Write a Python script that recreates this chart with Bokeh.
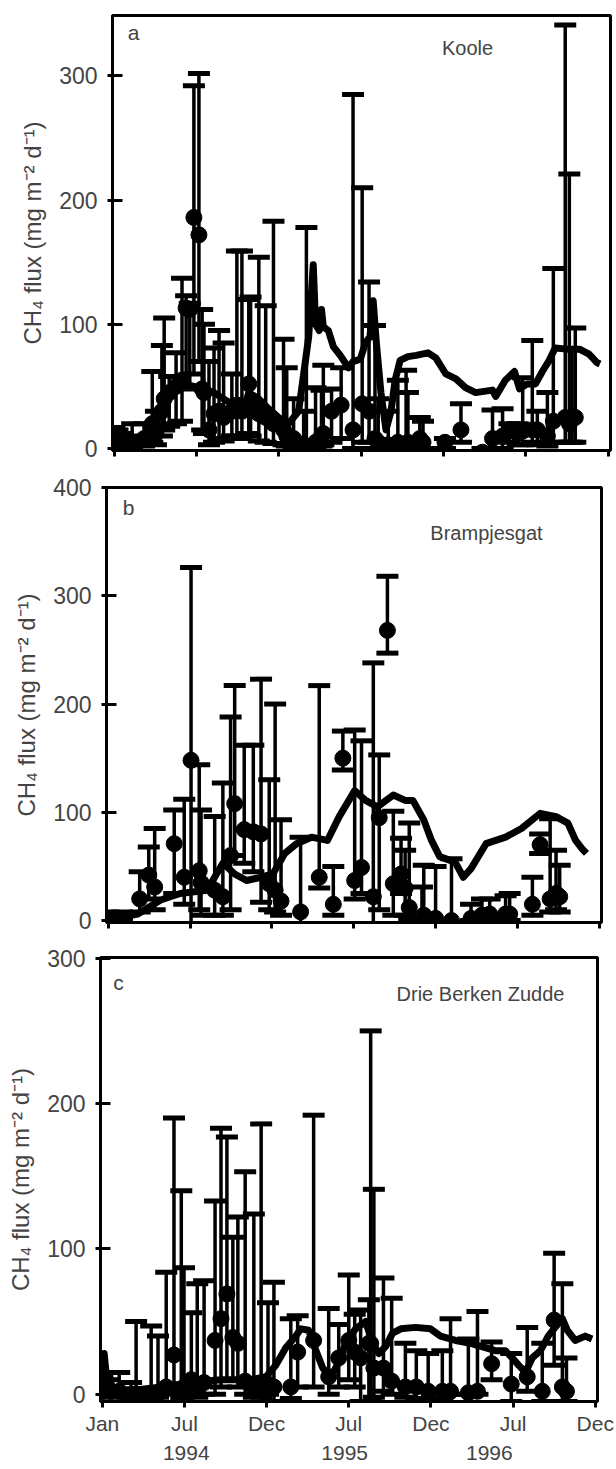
from bokeh.plotting import figure
from bokeh.layouts import column
from bokeh.models import (ColumnDataSource, Whisker, TeeHead, FixedTicker,
                          LinearAxis, Label, Range1d)
from bokeh.embed import file_html
from bokeh.resources import INLINE

FONT = "Liberation Sans"
Y_TITLE = "CH\u2084 flux (mg m\u207b\u00b2 d\u207b\u00b9)"

# x axis: days since 1 Jan 1994
X_TICKS = [0, 180, 360, 540, 720, 900, 1080]
X_LABELS = ["Jan", "Jul", "Dec", "Jul", "Dec", "Jul", "Dec"]
YEAR_TICKS = [184, 531, 848]
YEAR_LABELS = ["1994", "1995", "1996"]

# ---------------- panel a : Koole ----------------
A_DAY = [0, 7, 17, 33, 39, 65, 83, 91, 104, 109, 120, 135, 148, 157, 165, 174, 185, 192, 196, 207,
         218, 229, 239, 257, 268, 279, 294, 298, 316, 331, 348, 370, 377, 392, 414, 420, 440, 453, 457, 475,
         496, 522, 542, 557, 570, 577, 599, 620, 638, 642, 668, 675, 723, 758, 805, 827, 849, 864, 882, 893,
         914, 925, 947, 960, 986, 995, 1001, 1008]
A_MEAN = [10, 5, 3, 2, 4, 8, 20, 12, 30, 40, 45, 50, 55, 113, 112, 186, 172, 48, 45, 15,
          28, 30, 25, 30, 35, 30, 52, 35, 28, 25, 20, 15, 10, 8, 3, 0, 5, 10, 12, 30,
          35, 15, 36, 30, 8, 5, 3, 5, 3, 5, 8, 5, 5, 15, -3, 8, 10, 15, 12, 14,
          15, 15, 10, 22, 25, 20, 25, 25]
A_LO = [2, 0, 0, 0, 0, 2, 5, 3, 10, 15, 18, 20, 22, 48, 50, 60, 70, 15, 12, 3,
        5, 8, 6, 10, 10, 8, 12, 10, 6, 5, 4, 3, 2, 0, 0, -2, 0, 2, 3, 5,
        8, 0, 5, 5, 0, 0, 0, 0, 0, 0, 0, 0, 0, 5, -5, 0, 0, 5, 3, 3,
        5, 3, 2, 5, 5, 5, 5, 5]
A_UP = [17, 15, 12, 10, 20, 20, 62, 30, 83, 105, 58, 77, 137, 123, 117, 292, 302, 112, 100, 70,
        81, 95, 85, 60, 159, 159, 120, 122, 154, 115, 183, 88, 65, 40, 30, 178, 49, 47, 67, 48,
        65, 285, 210, 134, 99, 40, 30, 55, 63, 45, 25, 22, 8, 36, 0, 31, 32, 20, 20, 57,
        87, 30, 45, 145, 341, 221, 80, 97]
A_MDAY = [0, 11, 33, 54, 76, 91, 104, 120, 135, 152, 174, 196, 218, 239, 261, 283, 294, 316, 337, 359,
          381, 403, 414, 425, 435, 440, 448, 453, 457, 468, 479, 494, 512, 522, 538, 549, 559, 566, 573, 583,
          594, 605, 614, 625, 642, 660, 686, 703, 725, 747, 768, 790, 827, 834, 855, 875, 886, 903, 921, 936,
          951, 964, 990, 1017, 1038, 1056, 1062]
A_MVAL = [12, 8, 4, 8, 15, 22, 30, 42, 50, 52, 50, 48, 45, 40, 35, 32, 45, 40, 32, 25,
          20, 30, 60, 90, 148, 100, 95, 112, 98, 95, 82, 75, 65, 70, 72, 85, 90, 119, 85, 45,
          15, 30, 55, 71, 74, 75, 77, 73, 60, 56, 49, 45, 47, 42, 55, 62, 48, 52, 52, 62,
          71, 81, 80, 80, 76, 69, 68]

# ---------------- panel b : Brampjesgat ----------------
B_DAY = [0, 30, 69, 89, 102, 145, 167, 182, 200, 204, 234, 252, 269, 278, 299, 319, 336, 354, 367, 380,
         423, 464, 495, 516, 542, 557, 583, 596, 614, 627, 644, 653, 662, 690, 694, 720, 755, 798, 822, 839,
         874, 883, 933, 950, 972, 985, 993]
B_MEAN = [2, 1, 20, 42, 31, 71, 40, 148, 46, 35, 28, 22, 60, 108, 84, 82, 80, 34, 28, 18,
          8, 40, 15, 150, 37, 49, 22, 95, 268, 34, 43, 30, 12, -2, 5, 2, 0, 2, 5, 6,
          6, 6, 15, 70, 20, 25, 22]
B_LO = [0, 0, 8, 20, 10, 25, 15, -5, 10, 5, 5, 5, 10, 60, 53, 45, 17, 10, 8, 5,
        -5, 30, 5, 139, 20, 25, -5, 10, 247, 5, 25, 5, 2, -5, 0, 0, -2, 0, 0, 0,
        2, 0, 5, 62, 8, 10, 8]
B_UP = [8, 8, 45, 68, 85, 102, 112, 326, 144, 102, 96, 127, 188, 217, 162, 162, 223, 130, 200, 93,
        77, 217, 50, 175, 176, 166, 238, 153, 318, 101, 76, 65, 90, 31, 51, 50, 57, 15, 20, 20,
        23, 25, 40, 80, 94, 65, 51]
B_MDAY = [0, 65, 115, 158, 217, 241, 252, 278, 304, 336, 362, 388, 414, 447, 482, 508, 525, 542, 566, 592,
          627, 653, 670, 694, 711, 729, 763, 781, 798, 831, 874, 909, 950, 985, 1011, 1028, 1043, 1052]
B_MVAL = [1, 6, 19, 25, 28, 45, 53, 43, 37, 40, 43, 62, 71, 77, 74, 96, 108, 120, 111, 105,
          116, 111, 111, 93, 74, 59, 54, 40, 48, 71, 77, 85, 99, 96, 90, 74, 66, 62]

# ---------------- panel c : Drie Berken Zudde ----------------
C_DAY = [0, 11, 37, 63, 74, 107, 122, 140, 157, 173, 179, 195, 208, 223, 247, 260, 273, 286, 297, 313,
         332, 348, 363, 376, 413, 428, 463, 496, 518, 540, 553, 566, 584, 588, 595, 616, 634, 664, 688, 714,
         745, 763, 802, 822, 853, 896, 931, 964, 990, 1008, 1017]
C_MEAN = [2, 5, 2, -1, 0, 0, 0, 5, 27, 2, 5, 10, 5, 8, 37, 52, 69, 39, 35, 9,
          5, 2, 7, 5, 5, 29, 37, 12, 25, 37, 29, 25, 35, 35, 18, 18, 9, 5, 5, 2,
          2, 2, 1, 2, 21, 7, 12, 2, 51, 5, 2]
C_LO = [-2, 0, -2, -5, -3, -3, -2, 0, 5, -3, -2, 0, -2, 0, 0, 5, 10, 10, 5, 0,
        -2, -2, 0, -5, -3, 5, 5, 0, 5, 10, 5, -5, -5, -5, -2, 2, 0, -2, -3, -3,
        -3, 0, 0, 0, 10, -5, 2, -5, 20, -5, -5]
C_UP = [12, 10, 15, 8, 50, 47, 40, 84, 190, 140, 87, 56, 76, 78, 133, 183, 177, 108, 122, 153,
        124, 186, 63, 77, 52, 54, 192, 59, 48, 82, 55, 58, 65, 250, 141, 80, 66, 35, 30, 28,
        30, 52, 38, 57, 36, 28, 46, 35, 97, 76, 25]
C_MDAY = [0, 4, 9, 20, 42, 74, 129, 195, 260, 326, 359, 380, 402, 424, 435, 452, 468, 483, 501, 518,
          533, 555, 577, 592, 606, 621, 636, 654, 686, 719, 741, 774, 807, 839, 861, 883, 898, 912, 927, 942,
          960, 977, 992, 1008, 1019, 1036, 1058, 1073]
C_MVAL = [10, 28, 12, 5, 3, 3, 5, 8, 10, 10, 12, 20, 32, 40, 45, 44, 30, 18, 12, 22,
          35, 45, 50, 35, 28, 33, 42, 45, 46, 45, 40, 37, 35, 32, 30, 30, 25, 20, 15, 25,
          30, 40, 46, 52, 44, 37, 40, 38]


def make_panel(day, mean, lo, up, mday, mval, y0, y1, yticks, letter, site,
               left, right, top, bottom, height, frame_h,
               letter_pos, site_pos, month_labels):
    p = figure(width=616, height=height,
               x_range=Range1d(-4, 1085), y_range=Range1d(y0, y1),
               output_backend="svg", toolbar_location=None,
               min_border_left=left, min_border_right=right,
               min_border_top=top, min_border_bottom=bottom)
    try:
        p.frame_align = False
    except Exception:
        pass
    p.background_fill_color = "white"
    p.border_fill_color = "white"
    p.grid.visible = False
    p.outline_line_color = "black"
    p.outline_line_width = 3

    # model line
    p.line(mday, mval, line_color="black", line_width=7, line_join="round")

    # error bars
    src = ColumnDataSource(dict(x=day, lo=lo, up=up))
    w = Whisker(source=src, base="x", lower="lo", upper="up", dimension="height",
                line_color="black", line_width=3.5,
                upper_head=TeeHead(size=22, line_width=5, line_color="black"),
                lower_head=TeeHead(size=22, line_width=5, line_color="black"))
    p.add_layout(w)

    # mean points
    p.scatter(day, mean, size=16, marker="circle", fill_color="black", line_color="black")

    # y axis
    ya = p.yaxis[0]
    ya.ticker = FixedTicker(ticks=yticks)
    ya.axis_line_width = 3
    ya.major_tick_line_width = 3
    ya.major_tick_in = 10
    ya.major_tick_out = 5
    ya.minor_tick_line_color = None
    ya.major_label_text_font = FONT
    ya.major_label_text_font_size = "23px"
    ya.major_label_standoff = 10
    ya.axis_label = Y_TITLE
    ya.axis_label_text_font = FONT
    ya.axis_label_text_font_size = "24px"
    ya.axis_label_text_font_style = "normal"
    ya.axis_label_standoff = 10

    # x axis
    xa = p.xaxis[0]
    xa.ticker = FixedTicker(ticks=X_TICKS)
    xa.axis_line_width = 3
    xa.major_tick_line_width = 3
    xa.major_tick_in = 0
    xa.major_tick_out = 6
    xa.minor_tick_line_color = None
    xa.major_label_text_font = FONT
    if month_labels:
        xa.major_label_overrides = {t: l for t, l in zip(X_TICKS, X_LABELS)}
        xa.major_label_text_font_size = "21px"
        xa.major_label_standoff = 4
        yax = LinearAxis(ticker=FixedTicker(ticks=YEAR_TICKS),
                         major_label_overrides={t: l for t, l in zip(YEAR_TICKS, YEAR_LABELS)})
        yax.axis_line_color = None
        yax.major_tick_line_color = None
        yax.minor_tick_line_color = None
        yax.major_tick_out = 0
        yax.major_tick_in = 0
        yax.major_label_standoff = 8
        yax.major_label_text_font = FONT
        yax.major_label_text_font_size = "21px"
        p.add_layout(yax, "below")
    else:
        xa.major_label_overrides = {t: "" for t in X_TICKS}
        xa.major_label_text_font_size = "1px"
        xa.major_label_standoff = 0

    p.add_layout(Label(x=letter_pos[0], y=frame_h - letter_pos[1], x_units="screen", y_units="screen",
                       text=letter, text_font=FONT, text_font_size="21px",
                       text_align="center", text_baseline="middle"))
    p.add_layout(Label(x=site_pos[0], y=frame_h - site_pos[1], x_units="screen", y_units="screen",
                       text=site, text_font=FONT, text_font_size="20px",
                       text_align="center", text_baseline="middle"))
    return p


pa = make_panel(A_DAY, A_MEAN, A_LO, A_UP, A_MDAY, A_MVAL, -1.6, 348.6, [0, 100, 200, 300],
                "a", "Koole", 112, 6, 15, 18, 468, 435, (21, 17), (355, 32), False)
pb = make_panel(B_DAY, B_MEAN, B_LO, B_UP, B_MDAY, B_MVAL, -1.8, 400, [0, 100, 200, 300, 400],
                "b", "Brampjesgat", 106, 15, 19, 16, 470, 435, (22, 20), (380, 45), False)
pc = make_panel(C_DAY, C_MEAN, C_LO, C_UP, C_MDAY, C_MVAL, -5, 300.5, [0, 100, 200, 300],
                "c", "Drie Berken Zudde", 100, 19, 19, 68, 531, 444, (18, 25), (380, 36), True)

layout = column(pa, pb, pc, spacing=0)
open("out.html", "w").write(file_html(layout, INLINE))
